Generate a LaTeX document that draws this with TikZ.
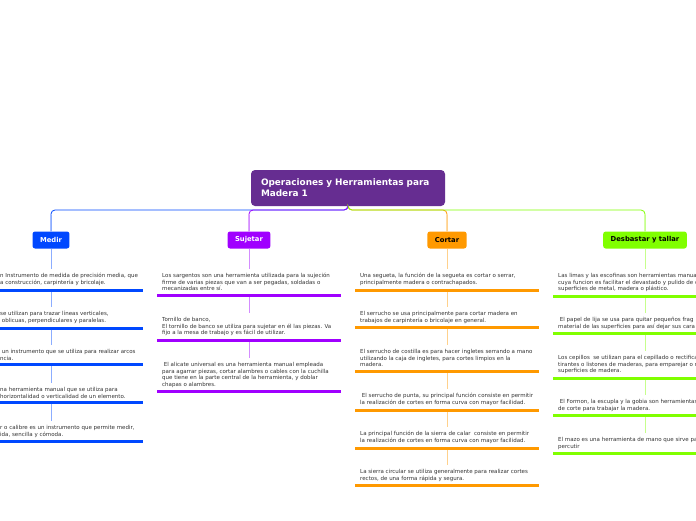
\documentclass[tikz,border=0pt]{standalone}
\usepackage{fontspec}
\setmainfont{DejaVu Sans}

\definecolor{rootpurple}{RGB}{102,45,145}
\definecolor{medircol}{RGB}{0,72,255}
\definecolor{sujetarcol}{RGB}{160,0,255}
\definecolor{cortarcol}{RGB}{255,153,0}
\definecolor{tallarcol}{RGB}{128,255,0}
\definecolor{leaftext}{RGB}{51,51,51}

\begin{document}
\begin{tikzpicture}[x=1pt, y=-1pt,
  root/.style={fill=rootpurple, rounded corners=4pt, text=white, align=left, text width=174pt, inner xsep=10pt, minimum height=36pt, font=\fontsize{8.9}{11}\selectfont\bfseries},
  cat/.style={fill=#1, rounded corners=2.5pt, inner xsep=7.5pt, minimum height=17pt, font=\fontsize{6.8}{8}\selectfont\bfseries},
  leaf/.style={anchor=north west, align=left, inner xsep=0pt, inner ysep=4.3pt, text=leaftext, font=\fontsize{5.5}{6.5}\selectfont},
  trunk/.style={draw=#1, line width=0.8pt, rounded corners=4pt},
  link/.style={draw=#1!45, line width=1pt},
  bar/.style={draw=#1, line width=3pt}
]
\path[use as bounding box, fill=white] (0,0) rectangle (696,520);

\node[root] (root) at (348,188) {Operaciones y Herramientas para\\Madera 1};
\coordinate (fork) at (348,210);

\node[cat=medircol, text=white] (medir) at (51,240) {Medir};
\node[cat=sujetarcol, text=white] (sujetar) at (249,240) {Sujetar};
\node[cat=cortarcol] (cortar) at (447,240) {Cortar};
\node[cat=tallarcol] (tallar) at (645,240) {Desbastar y tallar};

\draw[trunk=cortarcol] (root.south) -- (fork) -| (cortar.north);
\draw[trunk=medircol] (root.south) -- (fork) -| (medir.north);
\draw[trunk=sujetarcol] (root.south) -- (fork) -| (sujetar.north);
\draw[trunk=tallarcol] (root.south) -- (fork) -| (tallar.north);
\draw[link=medircol] (medir.north) -- ++(0,-16);
\draw[link=sujetarcol] (sujetar.north) -- ++(0,-16);
\draw[link=cortarcol] (cortar.north) -- ++(0,-16);
\draw[link=tallarcol] (tallar.north) -- ++(0,-16);

\node[leaf] (m1) at (0,269) {n Instrumento de medida de precisión media, que\\a construcción, carpintería y bricolaje.};
\node[leaf] (m2) at (0,307) {se utilizan para trazar líneas verticales,\\\ oblicuas, perpendiculares y paralelas.};
\node[leaf] (m3) at (0,345) {\ un instrumento que se utiliza para realizar arcos\\ncia.};
\node[leaf] (m4) at (0,383) {na herramienta manual que se utiliza para\\horizontalidad o verticalidad de un elemento.};
\node[leaf] (m5) at (0,421) {r o calibre es un instrumento que permite medir,\\ida, sencilla y cómoda.};

\node[leaf] (s1) at (162,269) {Los sargentos son una herramienta utilizada para la sujeción\\firme de varias piezas que van a ser pegadas, soldadas o\\mecanizadas entre sí.};
\node[leaf] (s2) at (162,313) {Tornillo de banco,\\El tornillo de banco se utiliza para sujetar en él las piezas. Va\\fijo a la mesa de trabajo y es fácil de utilizar.};
\node[leaf] (s3) at (162,358) {\ El alicate universal es una herramienta manual empleada\\para agarrar piezas, cortar alambres o cables con la cuchilla\\que tiene en la parte central de la herramienta, y doblar\\chapas o alambres.};

\node[leaf] (c1) at (360,269) {Una segueta, la función de la segueta es cortar o serrar,\\principalmente madera o contrachapados.};
\node[leaf] (c2) at (360,307) {El serrucho se usa principalmente para cortar madera en\\trabajos de carpintería o bricolaje en general.};
\node[leaf] (c3) at (360,345) {El serrucho de costilla es para hacer ingletes serrando a mano\\utilizando la caja de ingletes, para cortes limpios en la\\madera.};
\node[leaf] (c4) at (360,389) {\ El serrucho de punta, su principal función consiste en permitir\\la realización de cortes en forma curva con mayor facilidad.};
\node[leaf] (c5) at (360,427) {La principal función de la sierra de calar\ \ consiste en permitir\\la realización de cortes en forma curva con mayor facilidad.};
\node[leaf] (c6) at (360,465) {La sierra circular se utiliza generalmente para realizar cortes\\rectos, de una forma rápida y segura.};

\node[leaf] (d1) at (558,269) {Las limas y las escofinas son herramientas manua\\cuya funcion es facilitar el devastado y pulido de c\\superficies de metal, madera o plástico.};
\node[leaf] (d2) at (558,313) {\ El papel de lija se usa para quitar pequeños frag\\material de las superficies para así dejar sus cara};
\node[leaf] (d3) at (558,351) {Los cepillos\ \ se utilizan para el cepillado o rectifica\\tirantes o listones de maderas, para emparejar o r\\superficies de madera.};
\node[leaf] (d4) at (558,395) {\ El Formon, la escupla y la gobia son herramientas\\de corte para trabajar la madera.};
\node[leaf] (d5) at (558,433) {El mazo es una herramienta de mano que sirve pa\\percutir};

\draw[link=medircol] (medir.south) -- (m1.north -| medir) (m1.south -| medir) -- (m2.north -| medir)
  (m2.south -| medir) -- (m3.north -| medir) (m3.south -| medir) -- (m4.north -| medir)
  (m4.south -| medir) -- (m5.north -| medir);
\draw[link=sujetarcol] (sujetar.south) -- (s1.north -| sujetar) (s1.south -| sujetar) -- (s2.north -| sujetar)
  (s2.south -| sujetar) -- (s3.north -| sujetar);
\draw[link=cortarcol] (cortar.south) -- (c1.north -| cortar) (c1.south -| cortar) -- (c2.north -| cortar)
  (c2.south -| cortar) -- (c3.north -| cortar) (c3.south -| cortar) -- (c4.north -| cortar)
  (c4.south -| cortar) -- (c5.north -| cortar) (c5.south -| cortar) -- (c6.north -| cortar);
\draw[link=tallarcol] (tallar.south) -- (d1.north -| tallar) (d1.south -| tallar) -- (d2.north -| tallar)
  (d2.south -| tallar) -- (d3.north -| tallar) (d3.south -| tallar) -- (d4.north -| tallar)
  (d4.south -| tallar) -- (d5.north -| tallar);

\draw[bar=medircol] (m1.south -| medir) ++(-92,0) -- ++(184,0) (m2.south -| medir) ++(-92,0) -- ++(184,0)
  (m3.south -| medir) ++(-92,0) -- ++(184,0) (m4.south -| medir) ++(-92,0) -- ++(184,0)
  (m5.south -| medir) ++(-92,0) -- ++(184,0);
\draw[bar=sujetarcol] (s1.south -| sujetar) ++(-92,0) -- ++(184,0) (s2.south -| sujetar) ++(-92,0) -- ++(184,0)
  (s3.south -| sujetar) ++(-92,0) -- ++(184,0);
\draw[bar=cortarcol] (c1.south -| cortar) ++(-92,0) -- ++(184,0) (c2.south -| cortar) ++(-92,0) -- ++(184,0)
  (c3.south -| cortar) ++(-92,0) -- ++(184,0) (c4.south -| cortar) ++(-92,0) -- ++(184,0)
  (c5.south -| cortar) ++(-92,0) -- ++(184,0) (c6.south -| cortar) ++(-92,0) -- ++(184,0);
\draw[bar=tallarcol] (d1.south -| tallar) ++(-92,0) -- ++(184,0) (d2.south -| tallar) ++(-92,0) -- ++(184,0)
  (d3.south -| tallar) ++(-92,0) -- ++(184,0) (d4.south -| tallar) ++(-92,0) -- ++(184,0)
  (d5.south -| tallar) ++(-92,0) -- ++(184,0);
\end{tikzpicture}
\end{document}
